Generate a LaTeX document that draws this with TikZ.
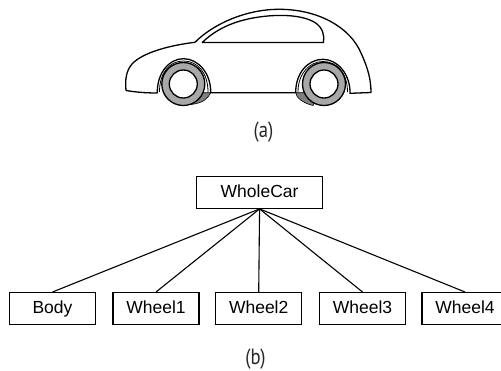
\documentclass[tikz,border=0pt]{standalone}
\usepackage{fontspec}
\setmainfont{Liberation Sans}
\newfontfamily\capfont[FakeStretch=0.85]{PT Sans}
\definecolor{ringgray}{HTML}{A8A8A8}
\definecolor{shadegray}{HTML}{7F7F7F}
\tikzset{
  treebox/.style={draw=black,line width=1.1pt,minimum width=86pt,minimum height=31.5pt,inner sep=0pt,text height=13pt,text depth=3.5pt,font=\fontsize{17.5}{20}\selectfont,text=black},
  treeline/.style={draw=black,line width=1.1pt},
  carline/.style={draw=black,line width=1.3pt,line join=round},
  wheelring/.style={draw=black,line width=1.3pt,fill=ringgray},
  wheelhub/.style={draw=black,line width=1.3pt,fill=white},
  shade/.style={draw=black,line width=0.6pt,fill=shadegray},
  caption/.style={font=\capfont\fontsize{22}{25}\selectfont,text=black!85,inner sep=0pt}
}
\begin{document}
\begin{tikzpicture}[x=1pt,y=-1pt]
\useasboundingbox (0,0) rectangle (501,370);
% shadows
\path[shade] (210.7,92.7) .. controls (208,98) and (204,103) .. (191,104.5) -- (195,92.7) -- cycle;
\path[shade] (295.7,92.7) .. controls (296,97) and (302,103) .. (313,105.5) -- (318,92.7) -- cycle;
% body
\draw[carline] (157.3,93) .. controls (145,93) and (135,92) .. (126,90.5)
  .. controls (125,80) and (126,71) .. (132,64)
  .. controls (143,52) and (172,45) .. (195,42.3)
  .. controls (212,25) and (245,9) .. (280,9.3)
  .. controls (318,9.5) and (350,27) .. (361,53)
  .. controls (368,68) and (371,80) .. (371,92.5)
  -- (350,93.3)
  .. controls (350.5,75) and (338,59.3) .. (323,59.3)
  .. controls (308,59.3) and (295.5,73) .. (295.7,92.7)
  -- (210.7,92.7)
  .. controls (211,73) and (198,58.7) .. (183.5,58.7)
  .. controls (169,58.7) and (157,73) .. (157.3,93);
% inner arches
\draw[carline,line width=0.8pt] (159.5,92) .. controls (159.5,72) and (170,61) .. (183.5,61) .. controls (197,61) and (208,72) .. (208,92);
\draw[carline,line width=0.8pt] (298,92) .. controls (298,73) and (310,61.5) .. (323,61.5) .. controls (337,61.5) and (347.5,73) .. (347.5,92);
% window
\draw[carline] (202.3,42.5) -- (323.5,42.5)
  .. controls (324.5,35) and (323,28) .. (315,22.5)
  .. controls (305,16.5) and (290,15) .. (275,15.5)
  .. controls (245,17) and (220,25) .. cycle;
% wheels
\filldraw[wheelring] (183.3,84) circle[radius=21.5];
\filldraw[wheelhub] (183.3,84) circle[radius=14];
\filldraw[wheelring] (324,84) circle[radius=21.5];
\filldraw[wheelhub] (324,84) circle[radius=14];
\node[caption] (capa) at (263.5,132.5) {(a)};
% tree
\node[treebox,minimum width=125.5pt] (whole) at (259.6,192.6) {WholeCar};
\node[treebox] (body) at (52.5,308.3) {Body};
\node[treebox] (w1) at (156,308.3) {Wheel1};
\node[treebox] (w2) at (258.7,308.3) {Wheel2};
\node[treebox] (w3) at (362.5,308.3) {Wheel3};
\node[treebox] (w4) at (465,308.3) {Wheel4};
\foreach \n in {body,w1,w2,w3,w4}
  \draw[treeline] (whole.south) -- (\n.north);
\node[caption] (capb) at (255.5,359) {(b)};
\end{tikzpicture}
\end{document}
